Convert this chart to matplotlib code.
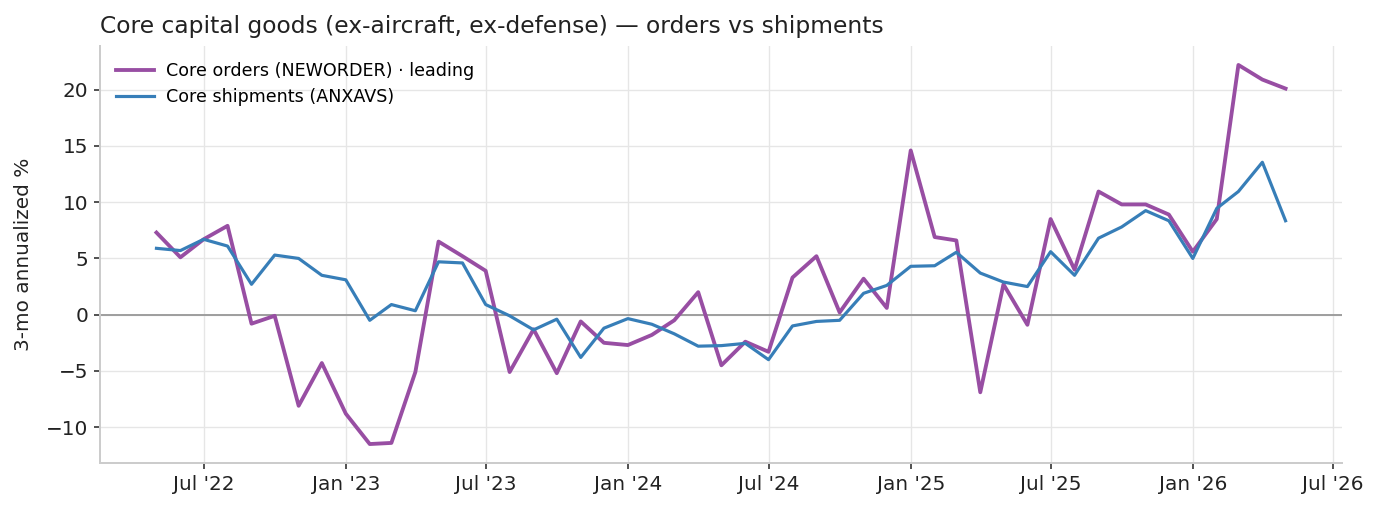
import numpy as np
import pandas as pd
import matplotlib
matplotlib.use("Agg")
import matplotlib.pyplot as plt
import matplotlib.dates as mdates

months = pd.date_range("2022-05-01", "2026-05-01", freq="MS")

orders = [7.3, 5.1, 6.7, 7.9, -0.8, -0.1, -8.1, -4.3, -8.8, -11.5, -11.4, -5.1,
          6.5, 5.2, 3.9, -5.1, -1.3, -5.2, -0.6, -2.5, -2.7, -1.8, -0.5, 2.0,
          -4.5, -2.4, -3.3, 3.3, 5.2, 0.2, 3.2, 0.6, 14.6, 6.9, 6.6, -6.9,
          2.7, -0.9, 8.5, 4.0, 10.95, 9.8, 9.8, 8.9, 5.6, 8.5, 22.2, 20.9, 20.1]

shipments = [5.9, 5.7, 6.7, 6.1, 2.7, 5.3, 5.0, 3.5, 3.1, -0.5, 0.9, 0.35,
             4.7, 4.6, 0.9, -0.1, -1.35, -0.4, -3.8, -1.2, -0.35, -0.85, -1.7, -2.8,
             -2.75, -2.55, -4.0, -1.0, -0.6, -0.5, 1.9, 2.6, 4.3, 4.35, 5.55, 3.7,
             2.9, 2.5, 5.6, 3.5, 6.8, 7.8, 9.25, 8.35, 5.0, 9.45, 10.95, 13.55, 8.35]

fig = plt.figure(figsize=(1379 / 120, 511 / 120), dpi=120)
ax = fig.add_axes([100 / 1379, 1 - 463 / 511, (1342 - 100) / 1379, (463 - 46) / 511])

ax.axhline(0, color="#999999", lw=1.1, zorder=1)
ax.plot(months, orders, color="#984ea3", lw=2.3, label="Core orders (NEWORDER) · leading", zorder=3)
ax.plot(months, shipments, color="#377eb8", lw=1.9, label="Core shipments (ANXAVS)", zorder=3)

ax.xaxis.set_major_locator(mdates.MonthLocator(bymonth=[1, 7]))
ax.xaxis.set_major_formatter(mdates.DateFormatter("%b '%y"))

ax.grid(True, color="#e6e6e6", lw=0.8, zorder=0)
ax.set_axisbelow(True)
for s in ["top", "right"]:
    ax.spines[s].set_visible(False)
for s in ["left", "bottom"]:
    ax.spines[s].set_color("#cccccc")
    ax.spines[s].set_linewidth(1.2)
ax.tick_params(labelsize=12, colors="#222222", length=3.5, width=1)
ax.tick_params(axis="both", color="#333333")

ax.set_ylabel("3-mo annualized %", fontsize=12, color="#222222", labelpad=8)
ax.set_title("Core capital goods (ex-aircraft, ex-defense) — orders vs shipments",
             loc="left", fontsize=14, color="#222222", pad=8)
ax.legend(loc="upper left", frameon=False, fontsize=10.5, handlelength=2.2,
          handletextpad=0.7, borderaxespad=0.5)

fig.savefig("out.png", dpi=120)
